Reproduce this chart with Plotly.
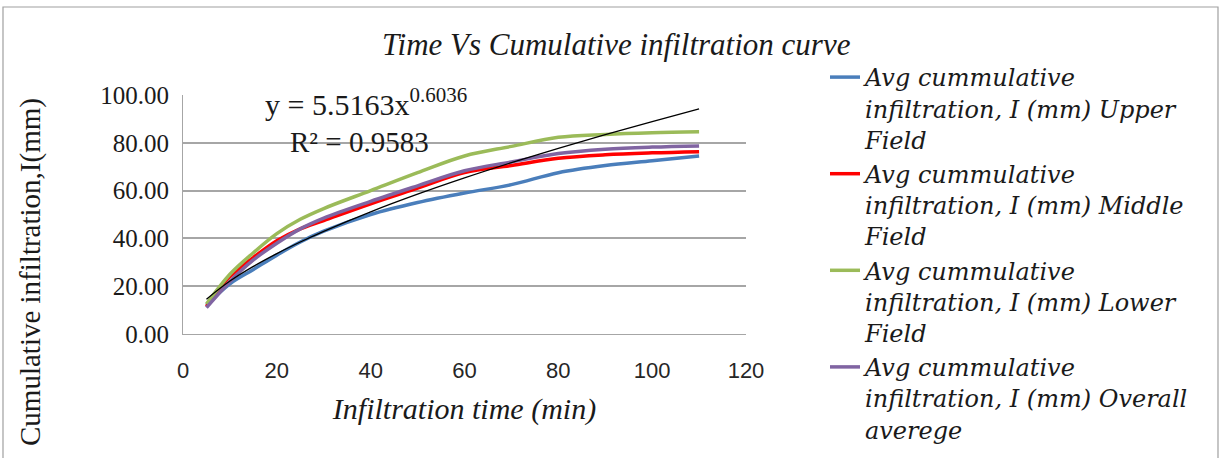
import plotly.graph_objects as go

# ---------------- data ----------------
time_min = [5, 10, 15, 20, 25, 30, 40, 50, 60, 70, 80, 90, 100, 110]
upper_field = [12, 21, 27, 33, 38.5, 43, 50, 55, 59, 62.5, 67.5, 70.5, 72.5, 74.5]
middle_field = [11.5, 24, 32, 39, 44, 47.5, 54.5, 61, 67.5, 70.5, 73.5, 75, 75.8, 76.3]
lower_field = [12.5, 25, 34, 42, 48, 52.5, 60, 67.5, 74.5, 78.5, 82.3, 83.5, 84.2, 84.6]
overall_avg = [11, 22, 31, 38, 44, 48.5, 55.5, 62, 68.3, 72, 75.5, 77.3, 78.2, 78.7]

series_names = [
    "Avg cummulative<br>infiltration, I (mm) Upper<br>Field",
    "Avg cummulative<br>infiltration, I (mm) Middle<br>Field",
    "Avg cummulative<br>infiltration, I (mm) Lower<br>Field",
    "Avg cummulative<br>infiltration, I (mm) Overall<br>averege",
]
series_colors = ["#4A7EBB", "#FF0000", "#9BBB59", "#8064A2"]

# power trendline shown on the chart: y = a * x^b
fit_a = 5.5163
fit_b = 0.6036
r_squared = 0.9583

x_ticks = [0, 20, 40, 60, 80, 100, 120]
y_ticks = [0, 20, 40, 60, 80, 100]

title_text = "Time Vs Cumulative infiltration curve"
x_title = "Infiltration time (min)"
y_title = "Cumulative infiltration,I(mm)"

# ---------------- figure ----------------
W, H = 1221, 458
L, R, T, B = 183, 475, 95, 124
PW, PH = W - L - R, H - T - B
fig = go.Figure()

for vals, name, col in zip([upper_field, middle_field, lower_field, overall_avg],
                           series_names, series_colors):
    fig.add_trace(go.Scatter(
        x=time_min, y=vals, mode="lines", name=name,
        line=dict(color=col, width=3.5, shape="spline", smoothing=1.0),
    ))

trend = [fit_a * t ** fit_b for t in time_min]
fig.add_trace(go.Scatter(
    x=time_min, y=trend, mode="lines", showlegend=False,
    line=dict(color="black", width=1.3, shape="spline"),
))

serif = "Liberation Serif"
grid = "#A6A6A6"

fig.update_layout(
    width=W, height=H,
    margin=dict(l=L, r=R, t=T, b=B, autoexpand=False),
    paper_bgcolor="white", plot_bgcolor="white",
    showlegend=True,
    legend=dict(
        x=(825 - L) / PW, y=(334 - 55) / PH, xanchor="left", yanchor="top",
        font=dict(family="DejaVu Serif", size=24, color="#1a1a1a", style="italic"),
        valign="top", tracegroupgap=0, itemwidth=30, maxheight=1,
        bgcolor="rgba(0,0,0,0)",
    ),
    xaxis=dict(
        range=[0, 120], tickvals=x_ticks, ticktext=[str(v) for v in x_ticks],
        showgrid=False, zeroline=False,
        showline=True, linecolor=grid, linewidth=1,
        ticks="", ticklabelstandoff=17,
        tickfont=dict(family="Liberation Sans", size=22, color="#262626"),
        title=dict(text=x_title, standoff=15,
                   font=dict(family=serif, size=30, color="#1a1a1a", style="italic")),
    ),
    yaxis=dict(
        range=[0, 100], tickvals=y_ticks, ticktext=[f"{v:.2f}" for v in y_ticks],
        showgrid=True, gridcolor=grid, gridwidth=1.5,
        zeroline=False, showline=True, linecolor=grid, linewidth=1,
        ticks="", ticklabelstandoff=8,
        tickfont=dict(family=serif, size=25, color="#1a1a1a"),
    ),
    annotations=[
        dict(text=title_text, xref="paper", yref="paper",
             x=(616 - L) / PW, y=(H - 44 - B) / PH,
             xanchor="center", yanchor="middle", showarrow=False,
             font=dict(family=serif, size=31, color="#1a1a1a", style="italic")),
        dict(text=y_title, xref="paper", yref="paper", textangle=-90,
             x=(30 - L) / PW, y=(H - 272 - B) / PH,
             xanchor="center", yanchor="middle", showarrow=False,
             font=dict(family=serif, size=29, color="#1a1a1a")),
        dict(text=f"y = {fit_a:.4f}x<sup>{fit_b:.4f}</sup>", xref="x", yref="y",
             x=39, y=97, xanchor="center", yanchor="middle", showarrow=False,
             font=dict(family=serif, size=30, color="#1a1a1a")),
        dict(text=f"R² = {r_squared:.4f}", xref="x", yref="y",
             x=37.6, y=80.4, xanchor="center", yanchor="middle", showarrow=False,
             font=dict(family=serif, size=29, color="#1a1a1a")),
    ],
    shapes=[
        dict(type="rect", xref="paper", yref="paper",
             x0=(3 - L) / PW, x1=(1218 - L) / PW,
             y0=-(B + 20) / PH, y1=(H - 7 - B) / PH,
             line=dict(color="#A0A0A0", width=1.2), layer="below"),
    ],
)

fig.write_html("out.html", config={"displayModeBar": False},
               post_script="document.body.style.margin='0px';")
